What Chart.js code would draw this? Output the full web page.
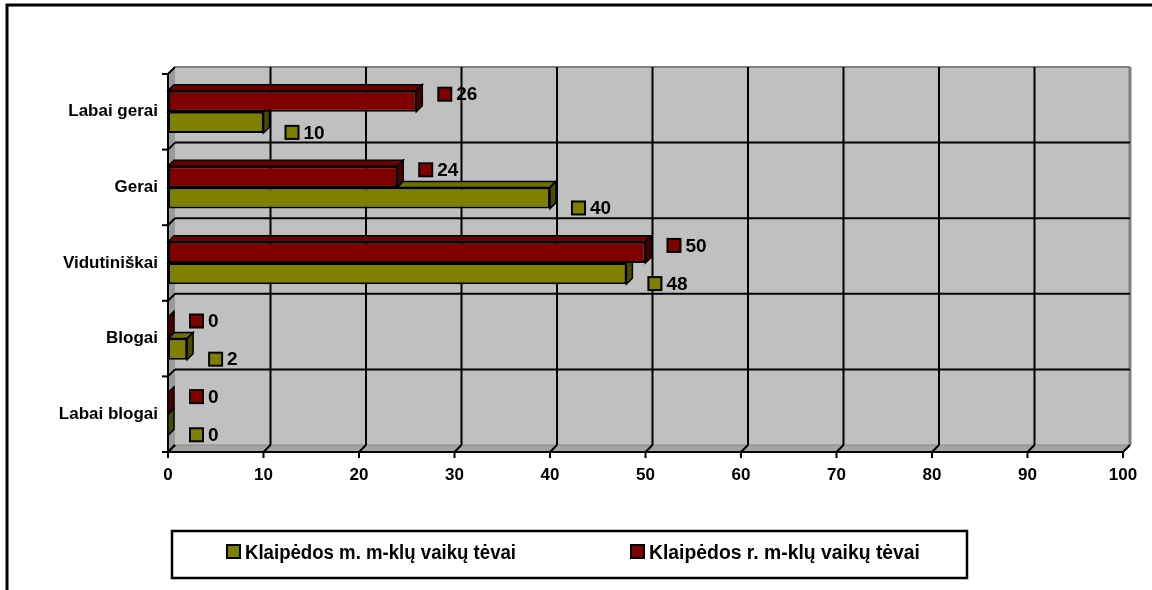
<!DOCTYPE html>
<html>
<head>
<meta charset="utf-8">
<script src="https://cdn.jsdelivr.net/npm/chart.js@4"></script>
<style>
  html, body { margin: 0; padding: 0; background: #fff; }
  #wrap { width: 1152px; height: 590px; }
</style>
</head>
<body>
<div id="wrap"><canvas id="grafikas"></canvas></div>
<script>
// Duomenys
const kategorijos = ['Labai gerai', 'Gerai', 'Vidutiniškai', 'Blogai', 'Labai blogai'];
const miestoTevai = [10, 40, 48, 2, 0];   // Klaipėdos m. m-klų vaikų tėvai
const rajonoTevai = [26, 24, 50, 0, 0];   // Klaipėdos r. m-klų vaikų tėvai
const xTickai = [0, 10, 20, 30, 40, 50, 60, 70, 80, 90, 100];

Chart.defaults.font.family = "'Liberation Sans', Arial, sans-serif";
Chart.defaults.font.weight = 'bold';
Chart.defaults.color = '#000';

const SPALVOS = {
    miestas: { front: '#808000', top: '#6e6e00', side: '#4a4a00' },
    rajonas: { front: '#800000', top: '#6a0000', side: '#480000' }
};
const GYLIS = 7;      // sienų gylis
const STULP_GYLIS = 6; // stulpelių gylis

function poly(ctx, pts, fill, stroke, lw) {
    ctx.beginPath();
    ctx.moveTo(pts[0][0], pts[0][1]);
    for (let i = 1; i < pts.length; i++) ctx.lineTo(pts[i][0], pts[i][1]);
    ctx.closePath();
    if (fill) { ctx.fillStyle = fill; ctx.fill(); }
    if (stroke) { ctx.strokeStyle = stroke; ctx.lineWidth = lw || 1; ctx.stroke(); }
}

function line(ctx, x1, y1, x2, y2, color, lw) {
    ctx.beginPath();
    ctx.moveTo(x1, y1);
    ctx.lineTo(x2, y2);
    ctx.strokeStyle = color;
    ctx.lineWidth = lw;
    ctx.stroke();
}

// 3D sienos, tinklelis ir ašys
const sienos = {
    id: 'sienos',
    beforeDatasetsDraw(chart) {
        const { ctx, chartArea: a, scales: { x } } = chart;
        const d = GYLIS;
        const n = kategorijos.length;
        const h = (a.bottom - a.top) / n;
        ctx.save();
        // galinė siena
        ctx.fillStyle = '#c0c0c0';
        ctx.fillRect(a.left + d, a.top - d, a.right - a.left, a.bottom - a.top);
        // kairė siena
        poly(ctx, [[a.left, a.top], [a.left + d, a.top - d], [a.left + d, a.bottom - d], [a.left, a.bottom]], '#9a9a9a');
        // grindys
        poly(ctx, [[a.left, a.bottom], [a.left + d, a.bottom - d], [a.right + d, a.bottom - d], [a.right, a.bottom]], '#a4a4a4');
        // kraštai
        line(ctx, a.left + d, a.top - d, a.right + d, a.top - d, '#808080', 2);
        line(ctx, a.right + d, a.top - d, a.right + d, a.bottom - d, '#808080', 3);
        line(ctx, a.right, a.bottom, a.right + d, a.bottom - d, '#808080', 2);
        line(ctx, a.left + d, a.bottom - d, a.right + d, a.bottom - d, '#888', 1);

        // vertikalus tinklelis
        xTickai.forEach(v => {
            const px = x.getPixelForValue(v);
            if (v > 0 && v < 100) {
                line(ctx, px + d, a.top - d, px + d, a.bottom - d, '#000', 2);
            }
            line(ctx, px, a.bottom, px + d, a.bottom - d, '#000', 2);
            line(ctx, px, a.bottom, px, a.bottom + 6, '#000', 2);
        });
        // horizontalus tinklelis
        for (let i = 0; i <= n; i++) {
            const yb = a.top + i * h;
            if (i > 0 && i < n) {
                line(ctx, a.left + d, yb - d, a.right + d, yb - d, '#000', 2);
            }
            line(ctx, a.left, yb, a.left + d, yb - d, '#000', 2);
            line(ctx, a.left - 6, yb, a.left, yb, '#000', 2);
        }
        // ašys
        line(ctx, a.left, a.top, a.left, a.bottom + 1, '#000', 2);
        line(ctx, a.left - 6, a.bottom, a.right, a.bottom, '#000', 2);

        // stulpelių 3D šonai (pirma apatinė serija, po to viršutinė)
        const dd = STULP_GYLIS;
        [1, 0].forEach(di => {
            const meta = chart.getDatasetMeta(di);
            const sp = chart.data.datasets[di].spalvos;
            meta.data.forEach(el => {
                const p = el.getProps(['x', 'y', 'base', 'height'], true);
                const top = p.y - p.height / 2;
                const bot = p.y + p.height / 2;
                poly(ctx, [[p.base, top], [p.base + dd, top - dd], [p.x + dd, top - dd], [p.x, top]], sp.top, '#000', 1.5);
                poly(ctx, [[p.x, top], [p.x + dd, top - dd], [p.x + dd, bot - dd], [p.x, bot]], sp.side, '#000', 1.5);
            });
        });
        ctx.restore();
    }
};

// Reikšmių etiketės su spalvos kvadratėliu
const etiketes = {
    id: 'etiketes',
    afterDatasetsDraw(chart) {
        const { ctx } = chart;
        ctx.save();
        chart.data.datasets.forEach((ds, di) => {
            const meta = chart.getDatasetMeta(di);
            const dy = di === 0 ? -7 : 10;
            meta.data.forEach((el, i) => {
                const p = el.getProps(['x', 'y'], true);
                const mx = p.x + 22;
                const my = p.y + dy;
                ctx.fillStyle = ds.backgroundColor;
                ctx.fillRect(mx, my - 6.5, 13, 13);
                ctx.strokeStyle = '#000';
                ctx.lineWidth = 2;
                ctx.strokeRect(mx, my - 6.5, 13, 13);
                ctx.fillStyle = '#000';
                ctx.font = "bold 19px 'Liberation Sans', Arial, sans-serif";
                ctx.textAlign = 'left';
                ctx.textBaseline = 'middle';
                ctx.fillText(String(ds.data[i]), mx + 18, my + 1);
            });
        });
        ctx.restore();
    }
};

// Legenda rėmelyje ir išorinis rėmas
const legenda = {
    id: 'legenda',
    afterDraw(chart) {
        const { ctx } = chart;
        ctx.save();
        ctx.strokeStyle = '#000';
        ctx.lineWidth = 3;
        ctx.strokeRect(7, 5, 2000, 2000);
        ctx.lineWidth = 2.5;
        ctx.strokeRect(172, 531, 795, 47);
        const irasai = [chart.data.datasets[1], chart.data.datasets[0]];
        const xs = [227, 631];
        ctx.font = "bold 20px 'Liberation Sans', Arial, sans-serif";
        ctx.textBaseline = 'middle';
        ctx.textAlign = 'left';
        irasai.forEach((ds, i) => {
            ctx.fillStyle = ds.backgroundColor;
            ctx.fillRect(xs[i], 545, 13, 13);
            ctx.lineWidth = 2;
            ctx.strokeRect(xs[i], 545, 13, 13);
            ctx.fillStyle = '#000';
            ctx.fillText(ds.label, xs[i] + 18, 553, 271);
        });
        ctx.restore();
    }
};

const ctx = document.getElementById('grafikas').getContext('2d');
new Chart(ctx, {
    type: 'bar',
    data: {
        labels: kategorijos,
        datasets: [{
            label: 'Klaipėdos r. m-klų vaikų tėvai',
            data: rajonoTevai,
            backgroundColor: SPALVOS.rajonas.front,
            spalvos: SPALVOS.rajonas,
            borderColor: '#000',
            borderWidth: 2,
            borderSkipped: false
        }, {
            label: 'Klaipėdos m. m-klų vaikų tėvai',
            data: miestoTevai,
            backgroundColor: SPALVOS.miestas.front,
            spalvos: SPALVOS.miestas,
            borderColor: '#000',
            borderWidth: 2,
            borderSkipped: false
        }]
    },
    options: {
        indexAxis: 'y',
        responsive: true,
        maintainAspectRatio: false,
        animation: false,
        categoryPercentage: 0.56,
        barPercentage: 1,
        layout: { padding: { top: 74, right: 29, bottom: 98, left: 0 } },
        plugins: {
            legend: { display: false },
            tooltip: { enabled: false }
        },
        scales: {
            x: {
                min: 0,
                max: 100,
                afterBuildTicks: s => { s.ticks = xTickai.map(v => ({ value: v })); },
                afterFit: s => { s.height = 40; },
                grid: { display: false },
                border: { display: false },
                ticks: { padding: 5, font: { size: 17, weight: 'bold' }, maxRotation: 0 }
            },
            y: {
                afterFit: s => { s.width = 168; },
                grid: { display: false },
                border: { display: false },
                ticks: { padding: 2, font: { size: 17, weight: 'bold' } }
            }
        }
    },
    plugins: [sienos, etiketes, legenda]
});
</script>
</body>
</html>
